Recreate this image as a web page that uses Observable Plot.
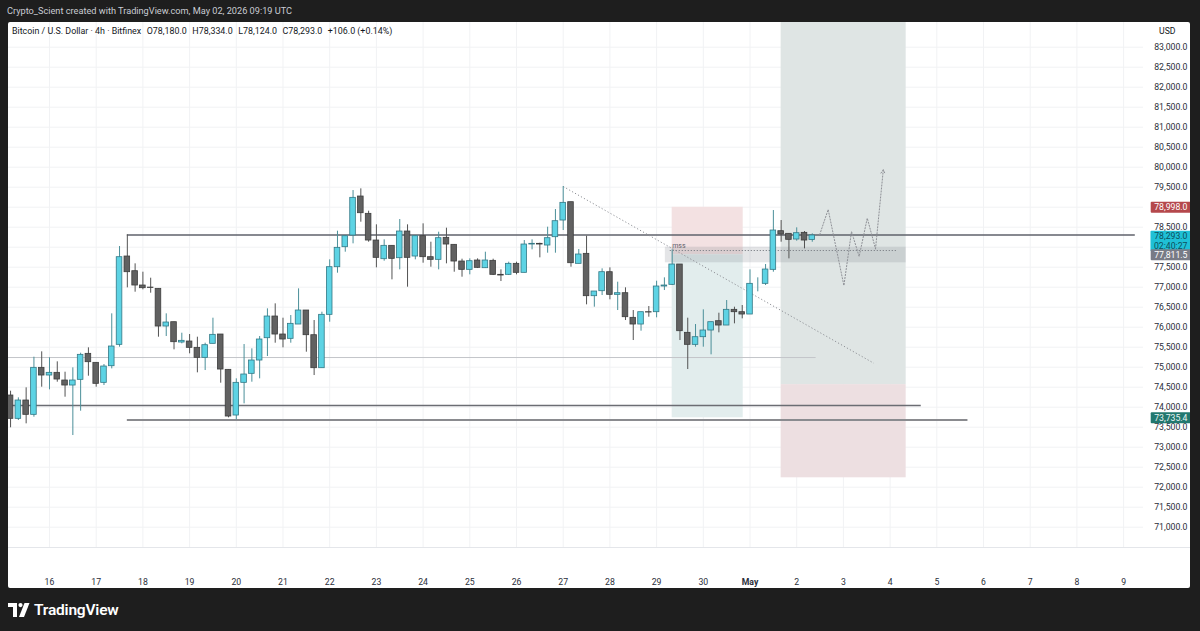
<!DOCTYPE html>
<html><head><meta charset="utf-8">
<script src="https://cdn.jsdelivr.net/npm/d3@7"></script>
<script src="https://cdn.jsdelivr.net/npm/@observablehq/plot@0.6"></script>
<style>
html,body{margin:0;padding:0;background:#1e1e1e;width:1200px;height:631px;overflow:hidden;font-family:Roboto,"Liberation Sans",sans-serif;}
#top{position:absolute;left:7px;top:5px;color:#c9ccd3;font-size:9.2px;white-space:nowrap;}
#panel{position:absolute;left:8px;top:22px;width:1182px;height:566px;background:#fff;border-radius:2px;overflow:hidden;}
#legend{position:absolute;left:4px;top:4px;font-size:8.9px;color:#131722;white-space:nowrap;z-index:3;}
#legend span{margin-left:5.5px;}
#usd{position:absolute;left:1151px;top:4px;font-size:8.7px;color:#131722;z-index:3;}
#chart{position:absolute;left:0;top:0;}
#sep{position:absolute;left:0;top:525px;width:1182px;height:1px;background:#e4e6ea;}
#footer{position:absolute;left:8px;top:600px;height:20px;display:flex;align-items:center;color:#fff;font-size:15.5px;font-weight:600;letter-spacing:-0.2px;}
#footer svg{margin-right:4px;}
</style></head>
<body>
<div id="top">Crypto_Scient created with TradingView.com, May 02, 2026 09:19 UTC</div>
<div id="panel">
  <div id="legend">Bitcoin / U.S. Dollar · 4h · Bitfinex<span>O78,180.0</span><span>H78,334.0</span><span>L78,124.0</span><span>C78,293.0</span><span>+106.0 (+0.14%)</span></div>
  <div id="usd">USD</div>
  <div id="chart"></div>
  <div id="sep"></div>
</div>
<div id="footer"><svg width="22" height="14" viewBox="0 0 22 14"><path d="M0 0H9V14H5V4H0Z" fill="#fff"/><circle cx="12.5" cy="2.1" r="2.1" fill="#fff"/><path d="M16.5 0H21.5L16 14H11Z" fill="#fff"/></svg>TradingView</div>
<script>
// ---- data: 4h candles, first candle 2026-04-15 04:00 UTC ----
const firstCandle = "2026-04-15T04:00:00Z";
const opens  = [74292,73709,74167,73809,74984,74792,74859,74667,74542,74684,75334,75109,74609,75025,75559,77767,77400,77042,76990,76959,76017,76125,75617,75642,75484,75234,75584,75817,74934,73792,74609,74834,75167,75725,76267,75817,75709,76067,76417,75800,74975,76309,77500,78000,78292,79267,78834,78167,77700,78034,77725,78392,77767,78275,77750,77684,78234,78059,77642,77434,77667,77475,77659,77309,77309,77584,77359,78067,78084,78042,78250,78667,79125,77584,77834,76775,76900,77375,76809,76850,76234,76067,76375,76375,77017,77059,77567,75859,75559,75750,75917,76150,76042,76434,76375,76317,77109,77084,77434,78400,78334,78192,78359,78180];
const highs  = [74400,74234,74484,75250,75384,75234,75134,74875,74984,75350,75484,75109,75067,76334,78017,78308,77584,77375,77225,76959,76334,76125,75850,75817,75750,75600,76225,75817,74934,74709,75567,75459,75767,76459,76584,76225,76292,76959,76417,76167,76375,77684,78400,78292,79417,79459,78900,78559,78184,78034,78692,78559,78292,78584,78125,78375,78475,78059,77700,77709,77709,77875,77700,77434,77625,77625,78167,78184,78100,78500,78942,79517,79125,77942,78275,76892,77459,77484,77125,76984,76417,76375,76517,77150,77234,77934,77567,76225,76067,76434,76125,76350,76667,76500,76542,77434,77234,77567,78917,78667,78334,78484,78392,78334];
const lows   = [73485,73667,73584,73750,74500,74434,74625,74250,73292,73900,74775,74500,74542,74958,75500,76984,76875,76934,76850,75750,75767,75434,75584,75334,74859,74917,75584,74600,73734,73684,74084,74625,74709,75267,75600,75484,75600,76067,75375,74792,74975,76125,77350,77875,78084,78625,78125,77484,77650,77184,77434,77000,77684,77600,77500,77434,77584,77375,77250,77309,77467,77467,77292,77142,77292,77309,77359,77934,77734,77850,77850,78417,77500,77584,76559,76500,76792,76684,76417,76167,75667,75900,76250,76234,76917,77042,75667,74942,75500,75500,75309,75859,76042,76084,76209,76317,76884,77042,77375,78125,77709,78150,77959,78124];
const closes = [73709,74167,73809,74984,74792,74859,74692,74542,74667,75309,75125,74584,75017,75517,77750,77375,77042,76975,76980,76017,76117,75625,75659,75484,75234,75550,75809,74942,73767,74609,74817,75167,75692,76267,75817,75692,76084,76417,75800,74975,76309,77500,77984,78275,79234,78850,78167,77734,78034,77709,78392,77734,78275,77750,77684,78225,78067,77642,77434,77650,77484,77667,77309,77292,77584,77359,78067,78084,78067,78225,78650,79109,77600,77817,76775,76892,77375,76809,76850,76250,76067,76375,76367,77017,77042,77567,75900,75559,75750,75917,76125,76042,76434,76375,76317,77084,77109,77442,78417,78317,78184,78350,78167,78293];

// axis ticks
const dayTickDates = ["2026-04-16","2026-04-17","2026-04-18","2026-04-19","2026-04-20","2026-04-21","2026-04-22","2026-04-23","2026-04-24","2026-04-25","2026-04-26","2026-04-27","2026-04-28","2026-04-29","2026-04-30","2026-05-01","2026-05-02","2026-05-03","2026-05-04","2026-05-05","2026-05-06","2026-05-07","2026-05-08","2026-05-09"];
const dayTickLabels = ["16","17","18","19","20","21","22","23","24","25","26","27","28","29","30","May","2","3","4","5","6","7","8","9"];
const priceTicks = [71000,71500,72000,72500,73000,73500,74000,74500,75000,75500,76000,76500,77000,77500,78000,78500,79000,79500,80000,80500,81000,81500,82000,82500,83000];
// tick labels hidden behind the price labels on the axis
const hiddenPriceTicks = [78000, 79000];

// drawings
const levelLines = [
  {x1:"2026-04-17T16:00Z", x2:"2026-05-09T06:00Z", y:78308, color:"#5f626b", w:1.5},
  {x1:"2026-04-17T16:00Z", x2:"2026-05-05T16:00Z", y:73680, color:"#8a8b8f", w:1.8},
  {x1:"2026-04-15T02:56Z", x2:"2026-05-04T16:00Z", y:74042, color:"#6b6d73", w:1.4},
  {x1:"2026-04-15T02:56Z", x2:"2026-05-02T10:00Z", y:75242, color:"#c4c6ca", w:1}
];
const shortPos = {x1:"2026-04-29T08:00Z", x2:"2026-04-30T20:30Z", stop:78998, entry:77811.5, target:73735.4};
const longPos  = {x1:"2026-05-01T16:00Z", x2:"2026-05-04T08:15Z", top:84200, entry:74565, stop:72235};
const mssBand  = {x1:"2026-04-29T04:30Z", x2:"2026-05-04T08:15Z", y1:77610, y2:78000};
const mssLine  = {x1:"2026-04-29T07:00Z", x2:"2026-05-04T03:40Z", y:77917, label:"mss"};
const trendLine = {x1:"2026-04-27T00:00Z", y1:79517, x2:"2026-05-03T15:36Z", y2:75100};
const pathTimes  = ["2026-05-02T11:50Z","2026-05-02T16:10Z","2026-05-03T00:15Z","2026-05-03T04:10Z","2026-05-03T08:05Z","2026-05-03T12:15Z","2026-05-03T16:30Z","2026-05-03T20:30Z"];
const pathPrices = [78317,78942,77042,78392,77767,78725,77960,79935];
const priceLabels = [
  {p:78998,  text:"78,998.0", bg:"#b5484c", fg:"#ffffff", anchor:"middle", dy:0},
  {p:78293,  text:"78,293.0\n02:40:27", bg:"#1fc0d6", fg:"#0e4f5b", anchor:"top", dy:-3},
  {p:77811.5,text:"77,811.5", bg:"#787b86", fg:"#ffffff", anchor:"middle", dy:0},
  {p:73735.4,text:"73,735.4", bg:"#22786f", fg:"#e8f5f3", anchor:"middle", dy:0}
];

// ---- build ----
const H4 = 4*3600e3;
const t0 = new Date(firstCandle).getTime();
const candles = opens.map((o,i)=>({t:new Date(t0+i*H4), o, h:highs[i], l:lows[i], c:closes[i], up: closes[i]>=o}));
const D = s => new Date(s);
const dayTicks = dayTickDates.map(s=>new Date(s+"T00:00:00Z"));
const labelOf = new Map(dayTicks.map((d,i)=>[+d, dayTickLabels[i]]));

const zones = [
  {x1:D(longPos.x1), x2:D(longPos.x2), y1:longPos.entry, y2:longPos.top, fill:"#dfe5e4"},
  {x1:D(longPos.x1), x2:D(longPos.x2), y1:longPos.stop, y2:longPos.entry, fill:"#eddfe1"},
  {x1:D(shortPos.x1), x2:D(shortPos.x2), y1:shortPos.entry, y2:shortPos.stop, fill:"#f3e1e2"},
  {x1:D(shortPos.x1), x2:D(shortPos.x2), y1:shortPos.target, y2:shortPos.entry, fill:"#e2eded"}
];
const path = pathTimes.map((s,i)=>({t:D(s), p:pathPrices[i]}));
const labelMarks = priceLabels.map(L => Plot.text([L], {y:"p", text:"text", frameAnchor:"right", dx:44, dy:L.dy, textAnchor:"end", lineAnchor:L.anchor, fill:"fg", fontSize:8.7, lineHeight:1.1, className:"plabels"}));

const chart = Plot.plot({
  width:1182, height:566,
  marginLeft:0, marginRight:47, marginTop:0, marginBottom:41,
  style:{fontFamily:"Roboto, 'Liberation Sans', sans-serif", fontSize:"8.7px", color:"#2a2e39", background:"transparent"},
  x:{type:"utc", domain:[D("2026-04-15T02:56Z"), D("2026-05-09T10:13Z")]},
  y:{domain:[70492.5, 83617.5]},
  marks:[
    Plot.gridX({ticks:dayTicks, stroke:"#f1f2f4", strokeOpacity:1}),
    Plot.gridY({ticks:priceTicks, stroke:"#f1f2f4", strokeOpacity:1}),
    Plot.rect(zones, {x1:"x1", x2:"x2", y1:"y1", y2:"y2", fill:d=>d.fill, clip:true}),
    Plot.rect([mssBand], {x1:d=>D(d.x1), x2:d=>D(d.x2), y1:"y1", y2:"y2", fill:"#787b86", fillOpacity:0.2}),
    Plot.ruleY(levelLines, {y:"y", x1:d=>D(d.x1), x2:d=>D(d.x2), stroke:d=>d.color, strokeWidth:d=>d.w}),
    Plot.link([trendLine], {x1:d=>D(d.x1), y1:"y1", x2:d=>D(d.x2), y2:"y2", stroke:"#8e9096", strokeWidth:1, strokeDasharray:"1.2,2.2"}),
    Plot.ruleY([mssLine], {y:"y", x1:d=>D(d.x1), x2:d=>D(d.x2), stroke:"#7d8087", strokeWidth:1, strokeDasharray:"1.2,1.8"}),
    Plot.text([mssLine], {x:d=>D(d.x1), y:"y", text:"label", textAnchor:"start", dx:2, dy:-5, fontSize:7, fill:"#5f626b"}),
    Plot.ruleX(candles, {x:"t", y1:"l", y2:"h", stroke:d=>d.up?"#4b8f99":"#535353", strokeWidth:1}),
    Plot.rect(candles, {x1:"t", x2:"t", y1:"o", y2:"c", insetLeft:-2.8, insetRight:-2.8, fill:d=>d.up?"#5dd3e4":"#616161", stroke:d=>d.up?"#337885":"#3d3d3d", strokeWidth:0.8}),
    Plot.line(path.slice(0,7), {x:"t", y:"p", stroke:"#8e9096", strokeWidth:1, strokeDasharray:"1.2,1.8"}),
    Plot.arrow([{a:path[6], b:path[7]}], {x1:d=>d.a.t, y1:d=>d.a.p, x2:d=>d.b.t, y2:d=>d.b.p, stroke:"#8e9096", strokeWidth:1, strokeDasharray:"1.2,1.8", headLength:6, bend:0}),
    Plot.axisX({ticks:dayTicks, tickFormat:d=>labelOf.get(+d), tickSize:0, tickPadding:31, fontSize:8.7}),
    Plot.axisY({ticks:priceTicks.filter(p=>!hiddenPriceTicks.includes(p)), anchor:"right", tickSize:0, tickPadding:44, textAnchor:"end", tickFormat:d3.format(",.1f"), fontSize:8.7}),
    ...labelMarks
  ]
});
document.getElementById("chart").appendChild(chart);

// bold "May"
chart.querySelectorAll("text").forEach(t=>{ if(t.textContent==="May") t.setAttribute("font-weight","bold"); });
// background boxes for price labels
const groups = [...chart.querySelectorAll("g")].filter(g=>(g.getAttribute("class")||"").includes("plabels"));
groups.forEach((g,i)=>{
  const t = g.querySelector("text");
  if (!t) return;
  const bb = t.getBBox();
  const r = document.createElementNS("http://www.w3.org/2000/svg","rect");
  r.setAttribute("x", bb.x-3.5); r.setAttribute("y", bb.y-0.5);
  r.setAttribute("width", bb.width+7); r.setAttribute("height", bb.height+1);
  r.setAttribute("fill", priceLabels[i].bg); r.setAttribute("rx", 1);
  const tr = t.getAttribute("transform");
  if (tr) r.setAttribute("transform", tr);
  g.insertBefore(r, g.firstChild);
});
</script>
</body></html>
